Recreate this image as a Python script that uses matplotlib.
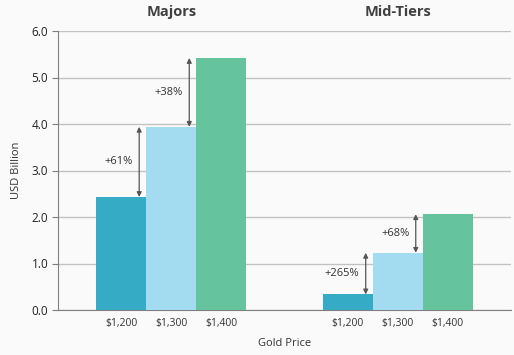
import matplotlib
matplotlib.use("Agg")
import matplotlib.pyplot as plt
import numpy as np

plt.rcParams['font.family'] = ['Open Sans', 'DejaVu Sans']

groups = ["Majors", "Mid-Tiers"]
prices = ["$1,200", "$1,300", "$1,400"]
majors = [2.43, 3.94, 5.42]
midtiers = [0.335, 1.23, 2.06]
changes_majors = ["+61%", "+38%"]
changes_mid = ["+265%", "+68%"]
yticks = [0.0, 1.0, 2.0, 3.0, 4.0, 5.0, 6.0]
colors = ["#36ABC5", "#A3DCF1", "#65C49D"]

fig = plt.figure(figsize=(5.14, 3.55), dpi=100)
fig.patch.set_facecolor("#FAFAFA")
ax = fig.add_axes([58/514, 1-310/355, 453/514, 279/355])
ax.set_facecolor("#FAFAFA")

bw = 0.221
centers = [0.0, 1.0]
series = [majors, midtiers]
changes = [changes_majors, changes_mid]
tick_pos = []
for gi, (c, vals, chg) in enumerate(zip(centers, series, changes)):
    xs = [c + (i - 1) * bw for i in range(3)]
    tick_pos += xs
    for i, (x, v) in enumerate(zip(xs, vals)):
        ax.bar(x, v, width=bw, color=colors[i], zorder=3)
    for i in range(2):
        xa = xs[i] + bw / 2 - 0.031
        y0, y1 = vals[i], vals[i + 1]
        ax.annotate("", xy=(xa, y1), xytext=(xa, y0),
                    arrowprops=dict(arrowstyle="<|-|>", color="#555555", lw=0.9,
                                    mutation_scale=7, shrinkA=0, shrinkB=0),
                    zorder=4)
        ax.text(xa - 0.028, (y0 + y1) / 2, chg[i], ha="right", va="center",
                fontsize=8, color="#333333", zorder=5)
    ax.text(c, 6.4, groups[gi], ha="center", va="center", fontsize=10.5,
            fontweight="bold", color="#404040")

ax.set_xlim(-0.5, 1.5)
ax.set_ylim(0, 6.0)
ax.set_yticks(yticks)
ax.set_yticklabels([f"{t:.1f}" for t in yticks], fontsize=8.5, color="#222222")
ax.set_xticks(tick_pos)
ax.set_xticklabels(prices * 2, fontsize=7.5, color="#333333")
ax.tick_params(axis="x", length=0, pad=6)
ax.tick_params(axis="y", length=4, color="#808080", pad=3)
ax.grid(axis="y", color="#C2C2C2", lw=1, zorder=0)
for s in ["top", "right"]:
    ax.spines[s].set_visible(False)
for s in ["left", "bottom"]:
    ax.spines[s].set_color("#7F7F7F")
ax.set_xlabel("Gold Price", fontsize=8, color="#333333", labelpad=6)
ax.set_ylabel("USD Billion", fontsize=8, color="#333333", labelpad=7)

fig.savefig("out.png", dpi=100, facecolor=fig.get_facecolor())
